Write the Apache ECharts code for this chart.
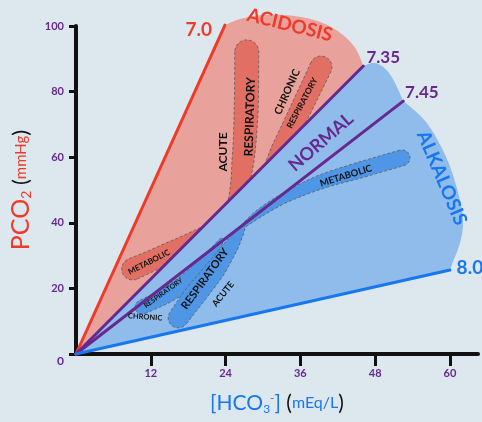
<!DOCTYPE html>
<html><head><meta charset="utf-8">
<script src="https://cdn.jsdelivr.net/npm/echarts@6/dist/echarts.min.js"></script>
<style>html,body{margin:0;padding:0;background:#dde7ee}#c{width:482px;height:422px}</style>
</head><body><div id="c"></div>
<script>
// ---- data (HCO3- mEq/L, PCO2 mmHg) ----
const xTicks = [0, 12, 24, 36, 48, 60];
const yTicks = [0, 20, 40, 60, 80, 100];
const phLabels = ['7.0', '7.35', '7.45', '8.0'];
const phLineEnds = [[23.9, 100.3], [46.1, 87.8], [52.5, 77.1], [60.0, 25.6]];
const acidosisEdge = [[23.9, 100.3], [26.3, 102.1], [30.3, 103.4], [35.2, 103.0], [39.2, 101.2], [42.4, 97.9], [44.8, 93.3], [46.1, 87.8]];
const normalEdge = [[46.1, 87.8], [48.0, 88.7], [49.8, 86.6], [51.2, 82.6], [52.5, 77.1]];
const alkalosisEdge = [[52.5, 77.1], [56.3, 70.4], [59.6, 59.1], [61.6, 47.0], [62.1, 39.9], [61.6, 33.8], [60.4, 27.7], [60.0, 25.6]];
const acuteRespAcidosis = [[27.4, 92.1], [27.3, 74.4], [26.8, 59.1], [25.7, 47.0], [23.4, 40.2]];
const chronicRespAcidosis = [[39.3, 87.5], [36.0, 74.4], [32.7, 62.2], [30.8, 56.7]];
const metabolicAcidosis = [[9.1, 25.9], [15.1, 31.1], [20.7, 37.2], [23.9, 41.5]];
const chronicRespAlkalosis = [[10.6, 14.3], [15.9, 19.5], [20.7, 28.0], [23.4, 34.8]];
const acuteRespAlkalosis = [[16.4, 11.0], [19.1, 18.0], [22.3, 25.6], [25.0, 33.2], [26.8, 38.4]];
const metabolicAlkalosis = [[52.3, 59.8], [45.6, 56.1], [39.2, 52.4], [33.5, 47.6], [29.5, 43.0], [26.8, 39.0]];

// ---- styling ----
const RED = '#ef3a2a', PURPLE = '#66298f', BLUE = '#1877ef';
const FONT = 'Lato';
const widthsPx = {
  acuteRespAcidosis: [12, 12, 11, 8, 3],
  chronicRespAcidosis: [11, 10.5, 9, 4],
  metabolicAcidosis: [11, 10, 6, 2],
  chronicRespAlkalosis: [7, 8, 6, 2],
  acuteRespAlkalosis: [10, 11, 10, 7, 2],
  metabolicAlkalosis: [8, 8, 7, 5, 4, 2]
};
const annotations = [
  {t: '7.0', at: [19.7, 98.8], r: 0, c: RED, s: 19},
  {t: 'ACIDOSIS', at: [34.3, 100.3], r: -14, c: RED, s: 19},
  {t: '7.35', at: [49.3, 90.5], r: 0, c: PURPLE, s: 17},
  {t: '7.45', at: [55.5, 79.6], r: 0, c: PURPLE, s: 17},
  {t: 'ALKALOSIS', at: [58.7, 53.7], r: -67, c: BLUE, s: 19},
  {t: '8.0', at: [63.2, 26.2], r: 0, c: BLUE, s: 19},
  {t: 'NORMAL', at: [39.3, 64.6], r: 41, c: PURPLE, s: 18},
  {t: 'ACUTE', at: [23.6, 61.6], r: 90, c: '#111', s: 12},
  {t: 'RESPIRATORY', at: [27.9, 72.3], r: 88, c: '#111', s: 12},
  {t: 'CHRONIC', at: [33.9, 79.9], r: 66, c: '#111', s: 10.5},
  {t: 'RESPIRATORY', at: [36.3, 76.5], r: 62, c: '#111', s: 8.5},
  {t: 'METABOLIC', at: [11.7, 28.0], r: 27, c: '#111', s: 8},
  {t: 'METABOLIC', at: [43.3, 54.3], r: 17, c: '#111', s: 9.5},
  {t: 'RESPIRATORY', at: [14.0, 18.6], r: 36, c: '#111', s: 7},
  {t: 'CHRONIC', at: [11.1, 11.3], r: -4, c: '#111', s: 7.5},
  {t: 'RESPIRATORY', at: [20.7, 22.9], r: 54, c: '#111', s: 11},
  {t: 'ACUTE', at: [23.6, 18.3], r: 51, c: '#111', s: 9}
];

function catmull(P, steps) {
  if (P.length < 3) return P.slice();
  const out = [];
  for (let i = 0; i < P.length - 1; i++) {
    const p0 = P[Math.max(0, i - 1)], p1 = P[i], p2 = P[i + 1], p3 = P[Math.min(P.length - 1, i + 2)];
    for (let k = 0; k < steps; k++) {
      const t = k / steps, t2 = t * t, t3 = t2 * t;
      out.push([0, 1].map(j => 0.5 * ((2 * p1[j]) + (-p0[j] + p2[j]) * t + (2 * p0[j] - 5 * p1[j] + 4 * p2[j] - p3[j]) * t2 + (-p0[j] + 3 * p1[j] - 3 * p2[j] + p3[j]) * t3)));
    }
  }
  out.push(P[P.length - 1]);
  return out;
}
function lerpWidths(ws, steps) {
  const out = [];
  for (let i = 0; i < ws.length - 1; i++) for (let k = 0; k < steps; k++) out.push(ws[i] + (ws[i + 1] - ws[i]) * k / steps);
  out.push(ws[ws.length - 1]);
  return out;
}
function capsulePts(pts, ws, api) {
  const P = catmull(pts.map(p => api.coord(p)), 8);
  const W = lerpWidths(ws, 8);
  const n = P.length, L = [], R = [], N = [], U = [];
  for (let i = 0; i < n; i++) {
    const a = P[Math.max(0, i - 1)], b = P[Math.min(n - 1, i + 1)];
    let dx = b[0] - a[0], dy = b[1] - a[1];
    const len = Math.hypot(dx, dy) || 1; dx /= len; dy /= len;
    U.push([dx, dy]); N.push([-dy, dx]);
    L.push([P[i][0] - dy * W[i], P[i][1] + dx * W[i]]);
    R.push([P[i][0] + dy * W[i], P[i][1] - dx * W[i]]);
  }
  const out = L.slice();
  const cap = (i, sign) => {
    const res = [];
    for (let k = 1; k < 16; k++) {
      const th = Math.PI * k / 16, w = W[i];
      res.push([P[i][0] + sign * w * (N[i][0] * Math.cos(th) + U[i][0] * Math.sin(th)),
                P[i][1] + sign * w * (N[i][1] * Math.cos(th) + U[i][1] * Math.sin(th))]);
    }
    return res;
  };
  out.push(...cap(n - 1, 1));
  out.push(...R.slice().reverse());
  out.push(...cap(0, -1));
  return out;
}
function regionPts(edges, api) {
  const o = api.coord([0, 0]);
  const pts = [o];
  edges.forEach(e => { catmull(e.map(p => api.coord(p)), 10).forEach(p => pts.push(p)); });
  pts.push(o);
  return pts;
}
const capStyle = (fill) => ({fill: fill, stroke: '#5a5a5a', lineWidth: 0.8, lineDash: [3, 2]});

const chart = echarts.init(document.getElementById('c'), null, {renderer: 'canvas'});
const tickStyle = {color: PURPLE, fontSize: 11, fontFamily: FONT, fontWeight: 'bold'};
chart.setOption({
  backgroundColor: '#dde7ee',
  animation: false,
  grid: {left: 76, right: 4, top: 26, bottom: 68},
  xAxis: {
    type: 'value', min: xTicks[0], max: 64.5, interval: xTicks[1] - xTicks[0],
    splitLine: {show: false},
    axisLine: {lineStyle: {color: '#111', width: 4}},
    axisTick: {length: 12, lineStyle: {color: '#111', width: 3}},
    axisLabel: Object.assign({margin: 14, showMinLabel: false, showMaxLabel: false,
      formatter: v => xTicks.indexOf(v) >= 0 ? String(v) : ''}, tickStyle),
    name: '{b|[HCO}{s|3}{u|-}{b|]}{p| (}{m|mEq/L}{p|)}',
    nameLocation: 'middle', nameGap: 37,
    nameTextStyle: {rich: {
      b: {color: BLUE, fontSize: 21, fontFamily: FONT},
      s: {color: BLUE, fontSize: 12, fontFamily: FONT, padding: [12, 0, 0, 0]},
      u: {color: BLUE, fontSize: 12, fontFamily: FONT, padding: [0, 0, 10, 0]},
      p: {color: '#111', fontSize: 21, fontFamily: FONT},
      m: {color: BLUE, fontSize: 16, fontFamily: FONT}
    }}
  },
  yAxis: {
    type: 'value', min: yTicks[0], max: yTicks[yTicks.length - 1], interval: yTicks[1] - yTicks[0],
    splitLine: {show: false},
    axisLine: {lineStyle: {color: '#111', width: 4}},
    axisTick: {length: 7, lineStyle: {color: '#111', width: 3}},
    axisLabel: Object.assign({margin: 12,
      formatter: v => v === 0 ? '{z|0}' : String(v),
      rich: {z: {color: PURPLE, fontSize: 12, fontFamily: FONT, fontWeight: 'bold', padding: [14, 0, 0, 0]}}
    }, tickStyle),
    name: '{a|PCO}{s|2}{p| (}{m|mmHg}{p|)}',
    nameLocation: 'middle', nameGap: 42, nameRotate: 90,
    nameTextStyle: {rich: {
      a: {color: RED, fontSize: 25, fontFamily: FONT},
      s: {color: RED, fontSize: 14, fontFamily: FONT, padding: [12, 0, 0, 0]},
      p: {color: '#111', fontSize: 22, fontFamily: FONT},
      m: {color: RED, fontSize: 15, fontFamily: FONT}
    }}
  },
  series: [
    {
      type: 'custom', z: 2, clip: false, data: [[0, 0]],
      renderItem: (params, api) => ({
        type: 'group', children: [
          {type: 'polygon', shape: {points: regionPts([acidosisEdge], api)}, style: {fill: '#e9a29b'}},
          {type: 'polygon', shape: {points: capsulePts(metabolicAcidosis, widthsPx.metabolicAcidosis, api)}, style: capStyle('#e26f63')},
          {type: 'polygon', shape: {points: capsulePts(acuteRespAcidosis, widthsPx.acuteRespAcidosis, api)}, style: capStyle('#e26f63')},
          {type: 'polygon', shape: {points: capsulePts(chronicRespAcidosis, widthsPx.chronicRespAcidosis, api)}, style: capStyle('#e26f63')},
          {type: 'polygon', shape: {points: regionPts([normalEdge, alkalosisEdge], api)}, style: {fill: '#8fbcea'}},
          {type: 'polygon', shape: {points: capsulePts(metabolicAlkalosis, widthsPx.metabolicAlkalosis, api)}, style: capStyle('#4f97e6')},
          {type: 'polygon', shape: {points: capsulePts(chronicRespAlkalosis, widthsPx.chronicRespAlkalosis, api)}, style: capStyle('#4f97e6')},
          {type: 'polygon', shape: {points: capsulePts(acuteRespAlkalosis, widthsPx.acuteRespAlkalosis, api)}, style: capStyle('#4f97e6')}
        ]
      })
    },
    ...phLineEnds.map((end, i) => ({
      type: 'line', name: phLabels[i], z: 3, clip: false, symbol: 'none', silent: true,
      data: [[0, 0], end],
      lineStyle: {width: 3, color: [RED, PURPLE, PURPLE, BLUE][i], cap: 'round'}
    })),
    {
      type: 'custom', z: 4, clip: false, data: [[0, 0]],
      renderItem: (params, api) => ({
        type: 'group', children: annotations.map(a => {
          const p = api.coord(a.at);
          return {type: 'text', x: p[0], y: p[1], rotation: a.r * Math.PI / 180,
            style: {text: a.t, fill: a.c, font: 'bold ' + a.s + 'px ' + FONT, align: 'center', verticalAlign: 'middle'}};
        })
      })
    }
  ]
});
</script></body></html>
